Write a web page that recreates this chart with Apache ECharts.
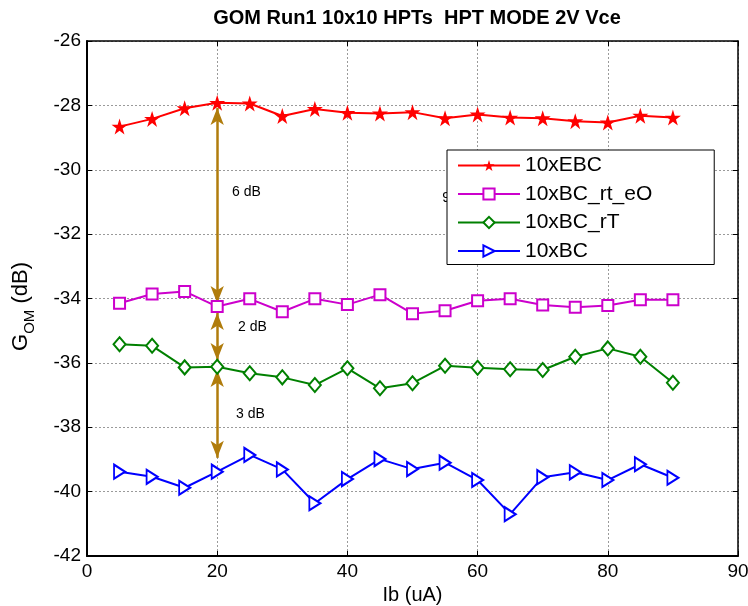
<!DOCTYPE html>
<html><head><meta charset="utf-8">
<script src="https://cdn.jsdelivr.net/npm/echarts@6/dist/echarts.min.js"></script>
<style>html,body{margin:0;padding:0;background:#fff}#c{width:748px;height:606px}</style>
</head><body><div id="c"></div>
<script>
// ---- data ----
const ib = [5,10,15,20,25,30,35,40,45,50,55,60,65,70,75,80,85,90];
const ebc    = [-28.66,-28.42,-28.09,-27.92,-27.94,-28.33,-28.11,-28.23,-28.25,-28.21,-28.40,-28.28,-28.38,-28.40,-28.49,-28.53,-28.32,-28.38];
const bcRtEO = [-34.15,-33.86,-33.78,-34.25,-34.01,-34.41,-34.01,-34.19,-33.88,-34.47,-34.38,-34.07,-34.01,-34.20,-34.27,-34.22,-34.04,-34.04];
const bcRT   = [-35.42,-35.47,-36.14,-36.12,-36.32,-36.45,-36.69,-36.17,-36.79,-36.63,-36.09,-36.15,-36.20,-36.22,-35.81,-35.55,-35.81,-36.62];
const bc     = [-39.38,-39.54,-39.88,-39.38,-38.86,-39.31,-40.36,-39.61,-38.99,-39.30,-39.10,-39.64,-40.70,-39.55,-39.40,-39.64,-39.15,-39.57];
const seriesNames = ['10xEBC','10xBC_rt_eO','10xBC_rT','10xBC'];
const xTickValues = [0,20,40,60,80,100];
const xTickLabels = ['0','20','40','60','80','90'];
const yTicks = [-42,-40,-38,-36,-34,-32,-30,-28,-26];
// annotation arrows at Ib=20: [x, yTop, yBottom]
const arrows = [[20,-28.08,-34.14],[20,-34.45,-35.91],[20,-36.22,-38.95]];
// annotation texts: [x, y, text]
const notes = [[24.5,-30.69,'6 dB'],[25.4,-34.88,'2 dB'],[25.1,-37.59,'3 dB'],[56.8,-30.88,'9 dB']];

const FONT = '"Liberation Sans", Arial, Helvetica, sans-serif';
const STAR = 'path://M50,0 L61.2,34.5 L97.6,34.5 L68.2,55.9 L79.4,90.5 L50,69.1 L20.6,90.5 L31.8,55.9 L2.4,34.5 L38.8,34.5 Z';
const ARROWC = '#b07c0c';

const pts = arr => ib.map((x,i)=>[x, arr[i]]);
const chart = echarts.init(document.getElementById('c'), null, {renderer:'canvas'});

const axisCommon = {
  type:'value',
  axisLine:{show:true, onZero:false, lineStyle:{color:'#000', width:1.5}},
  axisTick:{show:true, inside:true, length:5, lineStyle:{color:'#000'}},
};

chart.setOption({
  animation:false,
  backgroundColor:'#fff',
  title:{
    text:'GOM Run1 10x10 HPTs  HPT MODE 2V Vce',
    left:412, textAlign:'center', top:3,
    textStyle:{fontFamily:FONT, fontSize:20, fontWeight:'bold', color:'#000'}
  },
  legend:{
    data:seriesNames,
    orient:'vertical',
    left:447, top:150,
    backgroundColor:'#fff',
    borderColor:'#000', borderWidth:1,
    padding:[5,62,3,10],
    itemWidth:62, itemHeight:14, itemGap:7.5,
    textStyle:{fontFamily:FONT, fontSize:21, color:'#000'},
    z:10
  },
  grid:{left:87, right:10, top:41, bottom:50, show:false, outerBoundsMode:'none', containLabel:false},
  xAxis:[
    Object.assign({}, axisCommon, {
      min:0, max:100, interval:20, position:'bottom',
      axisLine:{show:true, onZero:false, lineStyle:{color:'#000', width:2}},
      axisLabel:{fontFamily:FONT, fontSize:19, color:'#000', margin:6,
        formatter: v => { const k = xTickValues.indexOf(v); return k>=0 ? xTickLabels[k] : ''; }},
      splitLine:{show:true, lineStyle:{color:'#9a9a9a', type:[2,2], width:1}},
      name:'Ib (uA)', nameLocation:'middle', nameGap:29,
      nameTextStyle:{fontFamily:FONT, fontSize:20, color:'#000'}
    }),
    Object.assign({}, axisCommon, {
      min:0, max:100, interval:20, position:'top',
      axisLabel:{show:false}, splitLine:{show:false}
    })
  ],
  yAxis:[
    Object.assign({}, axisCommon, {
      min:yTicks[0], max:yTicks[yTicks.length-1], interval:2, position:'left',
      axisLine:{show:true, onZero:false, lineStyle:{color:'#000', width:2}},
      axisLabel:{fontFamily:FONT, fontSize:19, color:'#000', margin:6},
      splitLine:{show:true, lineStyle:{color:'#9a9a9a', type:[2,2], width:1}},
      name:'{g|G}{s|OM}{g| (dB)}', nameLocation:'middle', nameGap:50, nameRotate:90,
      nameTextStyle:{fontFamily:FONT, color:'#000', padding:[0,16,0,0],
        rich:{
          g:{fontFamily:FONT, fontSize:22, color:'#000', lineHeight:32, verticalAlign:'middle'},
          s:{fontFamily:FONT, fontSize:15, color:'#000', lineHeight:32, verticalAlign:'bottom'}
        }}
    }),
    Object.assign({}, axisCommon, {
      min:yTicks[0], max:yTicks[yTicks.length-1], interval:2, position:'right',
      axisLabel:{show:false}, splitLine:{show:false}
    })
  ],
  series:[
    {name:seriesNames[0], type:'line', data:pts(ebc), symbol:STAR, symbolSize:16,
     lineStyle:{color:'#ff0000', width:2}, itemStyle:{color:'#ff0000'}, z:5},
    {name:seriesNames[1], type:'line', data:pts(bcRtEO), symbol:'emptyRect', symbolSize:11,
     lineStyle:{color:'#cc00cc', width:2}, itemStyle:{color:'#cc00cc', borderWidth:2}, z:5},
    {name:seriesNames[2], type:'line', data:pts(bcRT), symbol:'emptyDiamond', symbolSize:[12,14],
     lineStyle:{color:'#008000', width:2}, itemStyle:{color:'#008000', borderWidth:2}, z:5},
    {name:seriesNames[3], type:'line', data:pts(bc), symbol:'emptyTriangle', symbolSize:[14,11], symbolRotate:-90,
     lineStyle:{color:'#0000ff', width:2}, itemStyle:{color:'#0000ff', borderWidth:2}, z:5},
    {name:'annot', type:'line', data:[], z:6, silent:true,
     markLine:{
       silent:true, symbol:['arrow','arrow'], symbolSize:[10,17],
       label:{show:false},
       lineStyle:{color:ARROWC, width:2.5, type:'solid'},
       data: arrows.map(a => [{coord:[a[0],a[1]]},{coord:[a[0],a[2]]}])
     },
     markPoint:{
       silent:true, symbol:'circle', symbolSize:0,
       label:{show:true, position:'inside', formatter:'{b}', fontFamily:FONT, fontSize:14, color:'#000'},
       data: notes.map(n => ({name:n[2], coord:[n[0],n[1]]}))
     }
    }
  ]
});
</script></body></html>
